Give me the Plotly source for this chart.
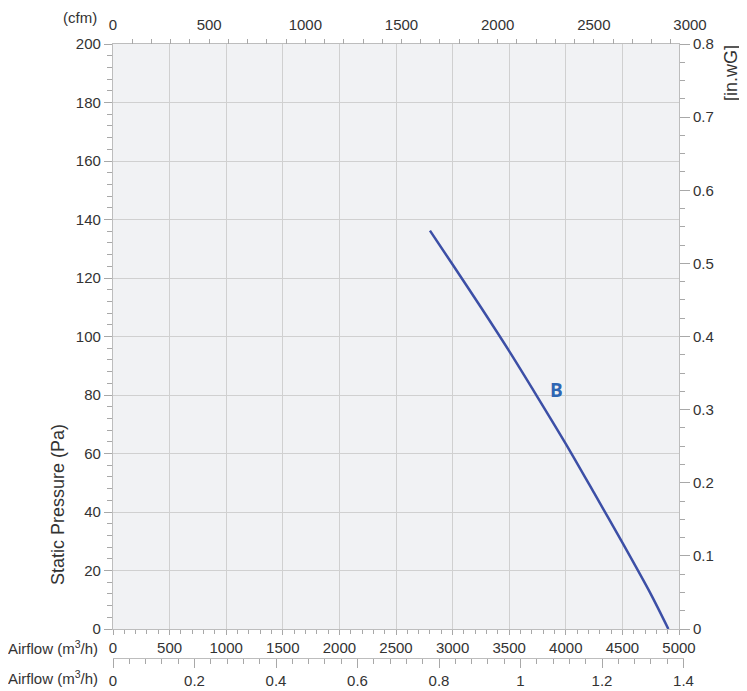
import plotly.graph_objects as go

# ---- data ----
airflow_m3h = [2800, 3000, 3250, 3500, 3750, 4000, 4250, 4500, 4750, 4906]
pressure_pa = [136.2, 124.6, 110.0, 95.0, 79.3, 63.3, 46.5, 29.5, 12.0, 0]
curve_label = "B"
label_point = 4

x_m3h_ticks = list(range(0, 5001, 500))
y_pa_ticks = list(range(0, 201, 20))
y_inwg_ticks = [0, 0.1, 0.2, 0.3, 0.4, 0.5, 0.6, 0.7, 0.8]
x_cfm_ticks = [0, 500, 1000, 1500, 2000, 2500, 3000]
x_cfm_minor = list(range(100, 3000, 100))
x_m3s_ticks = [0, 0.2, 0.4, 0.6, 0.8, 1, 1.2, 1.4]

CFM_TO_M3H = 1.699
M3S_TO_M3H = 3600.0
PA_PER_INWG = 250.0
X_MAX = 5000.0
Y_MAX = 200.0

# ---- layout geometry (page pixels; the page body has an 8px margin) ----
PAGE_W, PAGE_H = 747, 691
OFF = 8
W, H = PAGE_W - OFF, PAGE_H - OFF
AREA_L, AREA_R, AREA_T, AREA_B = 113, 707, 44, 671   # page px of plotting area
L, T = AREA_L - OFF, AREA_T - OFF
R = W - (AREA_R - OFF)
B = H - (AREA_B - OFF)
PW = AREA_R - AREA_L
PH = AREA_B - AREA_T


def px(xp):
    return (xp - AREA_L) / PW


def py(yp):
    return (AREA_B - yp) / PH


plot_right = 679
plot_bottom = 629
x_dom_end = px(plot_right)
y_dom_start = py(plot_bottom)
plot_px_w = plot_right - AREA_L
cfm_dom_end = px(AREA_L + plot_px_w * (x_cfm_ticks[-1] * CFM_TO_M3H) / X_MAX)
m3s_dom_end = px(AREA_L + plot_px_w * (x_m3s_ticks[-1] * M3S_TO_M3H) / X_MAX)

FONT = "Liberation Sans, Arial, sans-serif"
TXT = "#333333"
AXL = "#bdbdbd"
GRID = "#d0d0d0"
TICKC = "#a8a8a8"

fig = go.Figure()
fig.add_trace(go.Scatter(
    x=airflow_m3h, y=pressure_pa, mode="lines",
    line=dict(color="#3c4fa6", width=2.5, shape="spline", smoothing=0.8),
    xaxis="x", yaxis="y", showlegend=False, hoverinfo="skip"))
fig.add_trace(go.Scatter(x=[], y=[], xaxis="x", yaxis="y2", showlegend=False))
fig.add_trace(go.Scatter(x=[], y=[], xaxis="x2", yaxis="y3", showlegend=False))
fig.add_trace(go.Scatter(x=[], y=[], xaxis="x3", yaxis="y3", showlegend=False))

tickfont = dict(family=FONT, size=15, color=TXT)

fig.update_layout(
    template="none",
    width=W, height=H, autosize=False,
    margin=dict(l=L, r=R, t=T, b=B, pad=0, autoexpand=False),
    paper_bgcolor="white", plot_bgcolor="rgba(0,0,0,0)",
    showlegend=False,
    xaxis=dict(domain=[0, x_dom_end], range=[0, X_MAX], anchor="y", automargin=False,
               tickvals=x_m3h_ticks, showgrid=True, gridcolor=GRID, gridwidth=1.3,
               zeroline=False, showline=True, linecolor=AXL, linewidth=1.3, mirror=True,
               ticks="outside", ticklen=5, tickcolor=TICKC, tickwidth=1,
               minor=dict(dtick=100, ticks="outside", ticklen=4, tickcolor=TICKC),
               tickfont=tickfont),
    yaxis=dict(domain=[y_dom_start, 1], range=[0, Y_MAX], anchor="x", automargin=False,
               tickvals=y_pa_ticks, showgrid=True, gridcolor=GRID, gridwidth=1.3,
               zeroline=False, showline=True, linecolor=AXL, linewidth=1.3, mirror=True,
               ticks="outside", ticklen=8, tickcolor=TICKC,
               minor=dict(dtick=4, ticks="outside", ticklen=5, tickcolor=TICKC),
               tickfont=tickfont),
    yaxis2=dict(overlaying="y", side="right", anchor="x", automargin=False,
                range=[0, Y_MAX / PA_PER_INWG], tickvals=y_inwg_ticks,
                showgrid=False, zeroline=False, showline=False,
                ticks="outside", ticklen=10, tickcolor=TICKC,
                minor=dict(dtick=0.025, ticks="outside", ticklen=5, tickcolor=TICKC),
                tickfont=tickfont),
    yaxis3=dict(domain=[y_dom_start, 1], anchor="free", position=0, automargin=False,
                range=[0, 1], visible=False, showgrid=False, zeroline=False),
    xaxis2=dict(domain=[0, cfm_dom_end], range=[0, x_cfm_ticks[-1]], automargin=False,
                anchor="free", position=1, side="top",
                tickvals=x_cfm_ticks, showgrid=False, zeroline=False, showline=False,
                ticks="", ticklabelstandoff=11,
                minor=dict(tickvals=x_cfm_minor, ticks="outside", ticklen=5,
                           tickcolor=TICKC),
                tickfont=tickfont),
    xaxis3=dict(domain=[0, m3s_dom_end], range=[0, x_m3s_ticks[-1]], automargin=False,
                anchor="free", position=py(658), side="bottom",
                tickvals=x_m3s_ticks, showgrid=False, zeroline=False,
                showline=True, linecolor=AXL, linewidth=1.3,
                ticks="outside", ticklen=9, tickcolor=TICKC,
                minor=dict(dtick=0.04, ticks="outside", ticklen=5, tickcolor=TICKC),
                tickfont=tickfont),
    shapes=[dict(type="rect", xref="x domain", yref="y domain", x0=0, x1=1, y0=0, y1=1,
                 fillcolor="#f1f2f4", line=dict(width=0), layer="below")],
)

ann_font = dict(family=FONT, size=15, color=TXT)
title_font = dict(family=FONT, size=18, color=TXT)
fig.add_annotation(text="Airflow (m<sup>3</sup>/h)", xref="paper", yref="paper",
                   x=px(100), y=py(647), xanchor="right", yanchor="middle",
                   showarrow=False, font=ann_font)
fig.add_annotation(text="Airflow (m<sup>3</sup>/h)", xref="paper", yref="paper",
                   x=px(100), y=py(677), xanchor="right", yanchor="middle",
                   showarrow=False, font=ann_font)
fig.add_annotation(text="(cfm)", xref="paper", yref="paper",
                   x=px(80), y=py(17), xanchor="center", yanchor="middle",
                   showarrow=False, font=ann_font)
fig.add_annotation(text="Static Pressure (Pa)", xref="paper", yref="paper",
                   x=px(58), y=py(505), xanchor="center", yanchor="middle",
                   textangle=-90, showarrow=False, font=title_font)
fig.add_annotation(text="[in.wG]", xref="paper", yref="paper",
                   x=px(731), y=py(73), xanchor="center", yanchor="middle",
                   textangle=-90, showarrow=False, font=title_font)
fig.add_annotation(text="[mmAq]", xref="paper", yref="paper",
                   x=px(4), y=py(76), xanchor="right", yanchor="middle",
                   textangle=-90, showarrow=False, font=title_font)
fig.add_annotation(text="<b>%s</b>" % curve_label, xref="x", yref="y",
                   x=airflow_m3h[label_point], y=pressure_pa[label_point],
                   xshift=19, yshift=7, showarrow=False,
                   font=dict(family="Open Sans, sans-serif", size=19, color="#2f66b3"))

fig.write_html("out.html")
